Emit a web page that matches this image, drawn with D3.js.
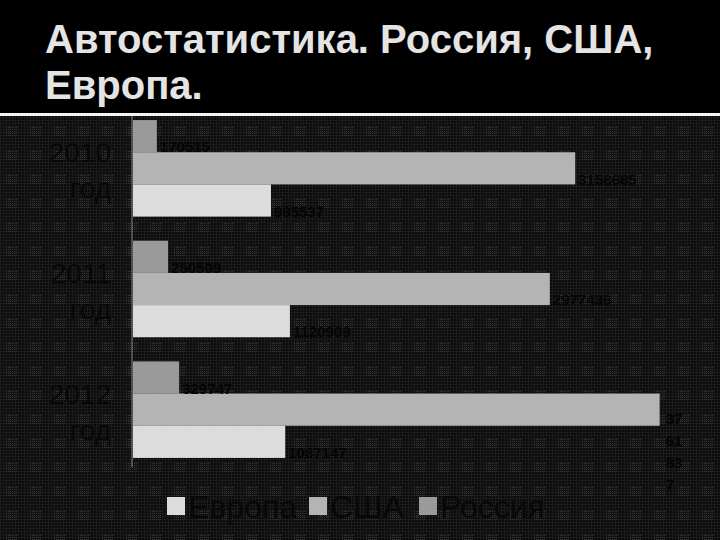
<!DOCTYPE html>
<html>
<head>
<meta charset="utf-8">
<script src="https://cdn.jsdelivr.net/npm/d3@7"></script>
<style>
  body { margin: 0; background: #000; }
  svg { display: block; font-family: "Liberation Sans", Arial, sans-serif; }
</style>
</head>
<body>
<div id="canvas"></div>
<script>
const years = ["2010 год", "2011 год", "2012 год"];
const seriesNames = ["Россия", "США", "Европа"];
const russia = [170515, 250509, 329747];
const usa = [3158685, 2977436, 3761837];
const europe = [985537, 1120909, 1087147];
const colors = ["#9a9a9a", "#b4b4b4", "#dcdcdc"];

const W = 720, H = 540;

const svg = d3.select("#canvas").append("svg")
    .attr("width", W)
    .attr("height", H);

// dotted halftone-ish background
const defs = svg.append("defs");
const pat = defs.append("pattern")
    .attr("id", "dots")
    .attr("width", 24)
    .attr("height", 24)
    .attr("patternUnits", "userSpaceOnUse");
pat.append("rect").attr("width", 24).attr("height", 24).attr("fill", "#0b0b0b");
for (let i = 0; i < 24; i += 3) {
    pat.append("rect").attr("x", i).attr("y", 0).attr("width", 1).attr("height", 24).attr("fill", "#1b1b1b");
    pat.append("rect").attr("x", 0).attr("y", i).attr("width", 24).attr("height", 1).attr("fill", "#1b1b1b");
}
for (let i = 0; i < 6; i++) {
    for (let j = 0; j < 5; j++) {
        pat.append("rect").attr("x", 6 + i * 2).attr("y", 7 + j * 2)
            .attr("width", 1).attr("height", 1).attr("fill", "#363636");
    }
}

svg.append("rect").attr("width", W).attr("height", H).attr("fill", "#000");
svg.append("rect").attr("y", 116).attr("width", W).attr("height", H - 116).attr("fill", "url(#dots)");
svg.append("rect").attr("y", 113).attr("width", W).attr("height", 3).attr("fill", "#f4f4f4");

// title
const title = svg.append("text")
    .attr("fill", "#e4e4e4")
    .attr("font-weight", "bold")
    .attr("font-size", 40);
title.append("tspan").attr("x", 45).attr("y", 53).text("Автостатистика. Россия, США,");
title.append("tspan").attr("x", 45).attr("y", 99).text("Европа.");

// scales
const y = d3.scaleBand()
    .domain(years)
    .range([108, 470])
    .paddingInner(0.2)
    .paddingOuter(0.1);

const ySub = d3.scaleBand()
    .domain(seriesNames)
    .range([0, y.bandwidth()]);

const x = d3.scaleLinear()
    .domain([0, 4000000])
    .range([133, 693]);

const rows = years.map((yr, i) => ({
    year: yr,
    values: [
        { name: "Россия", value: russia[i], color: colors[0] },
        { name: "США", value: usa[i], color: colors[1] },
        { name: "Европа", value: europe[i], color: colors[2] }
    ]
}));

const groups = svg.selectAll("g.grp")
    .data(rows)
    .enter().append("g")
    .attr("class", "grp")
    .attr("transform", d => `translate(0, ${y(d.year)})`);

groups.selectAll("rect")
    .data(d => d.values)
    .enter().append("rect")
    .attr("x", x(0))
    .attr("y", d => ySub(d.name))
    .attr("width", d => x(d.value) - x(0))
    .attr("height", ySub.bandwidth())
    .attr("fill", d => d.color);

// value labels (black, wrap when they run off the edge)
groups.selectAll("text.val")
    .data(d => d.values)
    .enter().append("text")
    .attr("class", "val")
    .attr("fill", "#050505")
    .attr("font-size", 15)
    .attr("font-weight", "bold")
    .each(function(d) {
        const t = d3.select(this);
        const lx = x(d.value) + 3;
        const ly = ySub(d.name) + ySub.bandwidth() / 2 + 11;
        const s = String(d.value);
        if (lx + s.length * 8.5 > W - 10) {
            const parts = s.match(/.{1,2}/g);
            parts.forEach((p, k) => {
                t.append("tspan").attr("x", lx + 3).attr("y", ly + 3 + k * 22).text(p);
            });
        } else {
            t.attr("x", lx).attr("y", ly).attr("dy", "0.35em").text(s);
        }
    });

// category axis
const yAxis = svg.append("g")
    .attr("transform", `translate(${x(0) - 1}, 0)`)
    .call(d3.axisLeft(y).tickSize(0).tickFormat(""));
yAxis.select(".domain").attr("stroke", "#8a8a8a").attr("d", "M0,116V467");

years.forEach(yr => {
    const [num, word] = yr.split(" ");
    const t = svg.append("text")
        .attr("text-anchor", "end")
        .attr("fill", "#080808")
        .attr("font-size", 28);
    const cy = y(yr) + y.bandwidth() / 2;
    t.append("tspan").attr("x", 111).attr("y", cy - 6).text(num);
    t.append("tspan").attr("x", 111).attr("y", cy + 30).text(word);
});

// legend
const legendItems = [
    { name: "Европа", color: colors[2], x: 167 },
    { name: "США", color: colors[1], x: 309 },
    { name: "Россия", color: colors[0], x: 419 }
];
const lg = svg.selectAll("g.leg")
    .data(legendItems)
    .enter().append("g")
    .attr("class", "leg")
    .attr("transform", d => `translate(${d.x}, 497)`);
lg.append("rect")
    .attr("width", 18)
    .attr("height", 18)
    .attr("fill", d => d.color);
lg.append("text")
    .attr("x", 21)
    .attr("y", 21)
    .attr("fill", "#080808")
    .attr("font-size", 32)
    .text(d => d.name);
</script>
</body>
</html>
